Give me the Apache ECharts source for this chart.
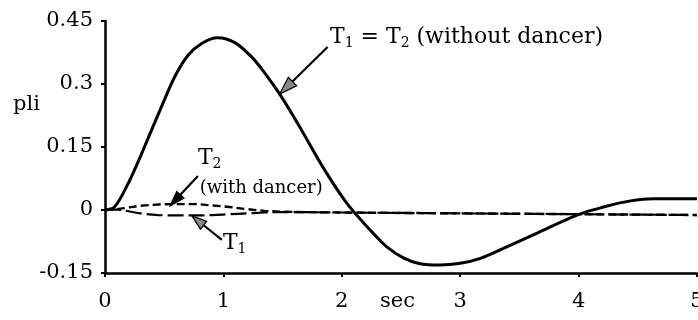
<!DOCTYPE html>
<html>
<head>
<meta charset="utf-8">
<script src="https://cdn.jsdelivr.net/npm/echarts@6/dist/echarts.min.js"></script>
<style>
  html, body { margin: 0; padding: 0; background: #fff; }
  #chart { width: 698px; height: 320px; }
</style>
</head>
<body>
<div id="chart"></div>
<script>
// Tension response without the dancer (T1 = T2)
const timeNoDancer = [0, 0.08, 0.19, 0.28, 0.36, 0.48, 0.59, 0.70, 0.82, 0.95, 1.10, 1.24, 1.35, 1.48, 1.64, 1.84, 2.04, 2.24, 2.38, 2.52, 2.66, 2.83, 3.00, 3.17, 3.36, 3.65, 3.93, 4.07, 4.21, 4.35, 4.52, 4.65, 5.0];
const pliNoDancer  = [0, 0.007, 0.060, 0.115, 0.168, 0.248, 0.318, 0.368, 0.397, 0.410, 0.398, 0.364, 0.326, 0.274, 0.200, 0.102, 0.017, -0.048, -0.088, -0.114, -0.128, -0.131, -0.127, -0.115, -0.092, -0.055, -0.019, -0.004, 0.007, 0.017, 0.025, 0.027, 0.027];

// Tension response with the dancer
const timeDancer = [0, 0.1, 0.2, 0.3, 0.45, 0.6, 0.75, 0.9, 1.05, 1.2, 1.35, 1.5, 2.0, 2.5, 3.0, 3.5, 4.0, 4.5, 5.0];
const pliT2Dancer = [0, 0.002, 0.006, 0.010, 0.013, 0.014, 0.014, 0.011, 0.007, 0.002, -0.002, -0.004, -0.006, -0.007, -0.008, -0.009, -0.010, -0.011, -0.012];
const pliT1Dancer = [0, 0.001, -0.003, -0.008, -0.012, -0.013, -0.013, -0.012, -0.010, -0.008, -0.006, -0.005, -0.006, -0.007, -0.008, -0.009, -0.010, -0.011, -0.012];

// Axis ranges
const xTicks = [0, 1, 2, 3, 4, 5];
const yTicks = [-0.15, 0, 0.15, 0.3, 0.45];

const FONT = 'DejaVu Serif';

function pairs(xs, ys) { return xs.map((x, i) => [x, ys[i]]); }

const chart = echarts.init(document.getElementById('chart'), null, { renderer: 'canvas' });

chart.setOption({
  animation: false,
  backgroundColor: '#fff',
  grid: { left: 105, right: 1, top: 21, bottom: 47, containLabel: false, outerBoundsMode: 'none' },
  xAxis: {
    type: 'value',
    min: xTicks[0], max: xTicks[xTicks.length - 1], interval: 1,
    axisLine: { onZero: false, lineStyle: { color: '#000', width: 2.5 } },
    axisTick: { inside: false, length: 4, lineStyle: { color: '#000', width: 2 } },
    axisLabel: { margin: 18, fontFamily: FONT, fontSize: 21, color: '#000' },
    splitLine: { show: false }
  },
  yAxis: {
    type: 'value',
    min: yTicks[0], max: yTicks[yTicks.length - 1], interval: 0.15,
    axisLine: { show: true, onZero: false, lineStyle: { color: '#000', width: 2.5 } },
    axisTick: { show: true, inside: false, length: 4, lineStyle: { color: '#000', width: 2 } },
    axisLabel: { margin: 12, fontFamily: FONT, fontSize: 21, color: '#000' },
    splitLine: { show: false }
  },
  series: [
    {
      name: 'T1 = T2 (without dancer)', type: 'line', smooth: 0.3, symbol: 'none',
      data: pairs(timeNoDancer, pliNoDancer),
      lineStyle: { color: '#000', width: 3 }, z: 3
    },
    {
      name: 'T2 (with dancer)', type: 'line', smooth: 0.4, symbol: 'none',
      data: pairs(timeDancer, pliT2Dancer),
      lineStyle: { color: '#000', width: 2.4, type: [8, 4] }, z: 2
    },
    {
      name: 'T1 (with dancer)', type: 'line', smooth: 0.4, symbol: 'none',
      data: pairs(timeDancer, pliT1Dancer),
      lineStyle: { color: '#000', width: 2.2, type: [16, 5] }, z: 2
    }
  ]
});

// Annotation text and arrows, anchored in data units
const px = (p) => chart.convertToPixel({ gridIndex: 0 }, p);

function arrow(tailData, tipData, fill, headLen) {
  const a = px(tailData), b = px(tipData);
  const dx = b[0] - a[0], dy = b[1] - a[1];
  const len = Math.hypot(dx, dy);
  const ux = dx / len, uy = dy / len;
  const headHalf = headLen * 0.33;
  const bx = b[0] - ux * headLen, by = b[1] - uy * headLen;
  return [
    { type: 'polyline', shape: { points: [a, [bx, by]] }, style: { stroke: '#000', lineWidth: 2.2, fill: null }, z: 10 },
    { type: 'polygon', shape: { points: [b, [bx - uy * headHalf, by + ux * headHalf], [bx + uy * headHalf, by - ux * headHalf]] },
      style: { fill: fill, stroke: '#000', lineWidth: 1.2 }, z: 10 }
  ];
}

const richStyle = {
  m: { fontFamily: FONT, fontSize: 22, lineHeight: 26, color: '#000' },
  s: { fontFamily: FONT, fontSize: 14, lineHeight: 14, color: '#000', verticalAlign: 'bottom' },
  w: { fontFamily: FONT, fontSize: 18, lineHeight: 22, color: '#000' }
};

function label(text, anchor) {
  const p = px(anchor);
  return { type: 'text', x: p[0], y: p[1], z: 11,
    style: { text: text, rich: richStyle, align: 'left', verticalAlign: 'middle', fill: '#000' } };
}

function drawAnnotations() {
  const pli = px([0, 0.25]);
  const sec = px([2.47, yTicks[0]]);
  chart.setOption({
    graphic: [
      label('{m|T}{s|1}{m| = T}{s|2}{m| (without dancer)}', [1.90, 0.412]),
      ...arrow([1.88, 0.388], [1.475, 0.276], '#888', 18),
      label('{m|T}{s|2}', [0.785, 0.122]),
      label('{w|(with dancer)}', [0.80, 0.052]),
      ...arrow([0.785, 0.081], [0.55, 0.010], '#000', 15),
      label('{m|T}{s|1}', [0.996, -0.080]),
      ...arrow([0.987, -0.071], [0.734, -0.014], '#888', 15),
      { type: 'text', x: 13, y: pli[1], z: 11,
        style: { text: 'pli', fontFamily: FONT, fontSize: 21, fill: '#000', align: 'left', verticalAlign: 'middle' } },
      { type: 'text', x: sec[0], y: sec[1] + 18, z: 11,
        style: { text: 'sec', fontFamily: FONT, fontSize: 21, fill: '#000', align: 'center', verticalAlign: 'top' } }
    ]
  });
}
drawAnnotations();
</script>
</body>
</html>
